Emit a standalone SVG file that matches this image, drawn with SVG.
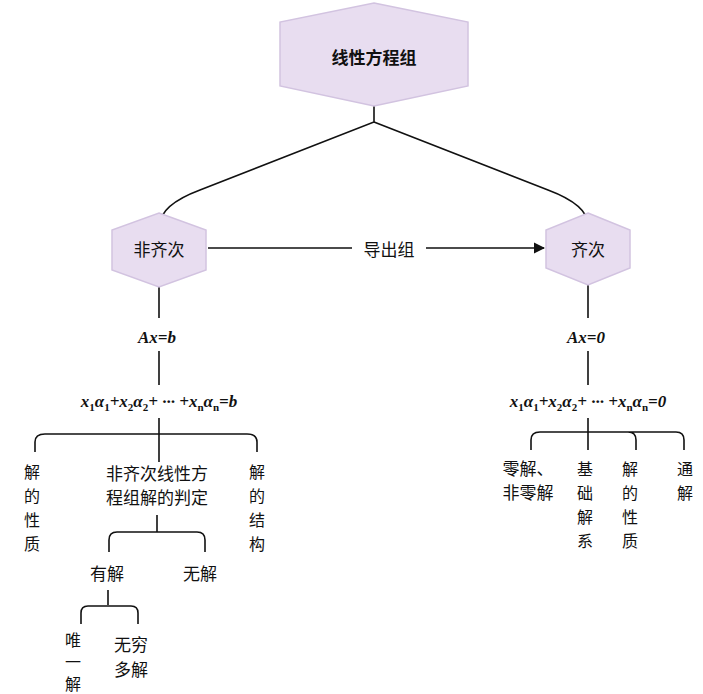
<svg xmlns="http://www.w3.org/2000/svg" width="703" height="694" viewBox="0 0 703 694">
<style>
.hex{fill:#e8ddf0;stroke:#d2c3e0;stroke-width:1.5}
.c{fill:none;stroke:#111;stroke-width:1.6}
.t{font-family:"Noto Sans CJK SC","Noto Sans",sans-serif;font-size:17px;fill:#111;text-anchor:middle}
.v{font-size:16px}
.m{font-family:"Liberation Serif",serif;font-style:italic;font-weight:bold;font-size:17px;fill:#111;text-anchor:middle}
.s{font-size:11px;font-style:normal}
</style>
<defs><marker id="ah" viewBox="0 0 10 10" refX="9" refY="5" markerWidth="7" markerHeight="7" orient="auto"><path d="M0,0L10,5L0,10z" fill="#111"/></marker></defs>
<rect width="703" height="694" fill="#fff"/>
<g id="connectors">
<path class="c" d="M374,105V122L200,190Q160,205 160,225"/>
<path class="c" d="M374,122L548,190Q588,205 588,225"/>
<path class="c" d="M208,248H352M426,248H544" marker-end="url(#ah)"/>
<path class="c" d="M159,285V318M159,351V385M159,418V462M35,452V442Q35,434 45,434H247Q257,434 257,442V452"/>
<path class="c" d="M157,515V532M109,552V540Q109,532 117,532H197Q205,532 205,540V552"/>
<path class="c" d="M108,590V605M81,624V613Q81,606 88,606H131Q138,606 138,613V624"/>
<path class="c" d="M588,285V318M588,351V385M588,418V450M531,450V440Q531,432 540,432H676Q684,432 684,440V450M628,432Q636,432 636,440V450"/>
</g>
<g id="root"><polygon class="hex" points="374,3 468,22 468,86 374,106 280,86 280,22"/><text class="t" x="374" y="64" font-weight="bold" font-size="20">线性方程组</text></g>
<g id="nonhom"><polygon class="hex" points="159,213 206,230 206,270 159,287 112,270 112,230"/><text class="t" x="159" y="256">非齐次</text></g>
<g id="hom"><polygon class="hex" points="588,213 630,230 630,268 588,285 546,268 546,230"/><text class="t" x="588" y="256">齐次</text></g>
<g id="label"><text class="t" x="389" y="256">导出组</text></g>
<g id="axb"><text class="m" x="157" y="343">Ax=b</text></g>
<g id="formula-b"><text class="m" x="159" y="407" font-size="16">x<tspan class="s" dy="4">1</tspan><tspan dy="-4">α</tspan><tspan class="s" dy="4">1</tspan><tspan dy="-4">+x</tspan><tspan class="s" dy="4">2</tspan><tspan dy="-4">α</tspan><tspan class="s" dy="4">2</tspan><tspan dy="-4">+ ··· +x</tspan><tspan class="s" dy="4">n</tspan><tspan dy="-4">α</tspan><tspan class="s" dy="4">n</tspan><tspan dy="-4">=b</tspan></text></g>
<g id="l1"><text class="t v"><tspan x="32" y="478">解</tspan><tspan x="32" y="502">的</tspan><tspan x="32" y="526">性</tspan><tspan x="32" y="550">质</tspan></text></g>
<g id="l2"><text class="t"><tspan x="157" y="480">非齐次线性方</tspan><tspan x="157" y="504">程组解的判定</tspan></text></g>
<g id="l3"><text class="t v"><tspan x="257" y="478">解</tspan><tspan x="257" y="502">的</tspan><tspan x="257" y="526">结</tspan><tspan x="257" y="550">构</tspan></text></g>
<g id="has"><text class="t" x="107" y="580">有解</text></g>
<g id="none"><text class="t" x="200" y="580">无解</text></g>
<g id="unique"><text class="t v"><tspan x="73" y="646">唯</tspan><tspan x="73" y="668">一</tspan><tspan x="73" y="690">解</tspan></text></g>
<g id="inf"><text class="t"><tspan x="131" y="651">无穷</tspan><tspan x="131" y="676">多解</tspan></text></g>
<g id="ax0"><text class="m" x="586" y="343">Ax=0</text></g>
<g id="formula-0"><text class="m" x="588" y="407" font-size="16">x<tspan class="s" dy="4">1</tspan><tspan dy="-4">α</tspan><tspan class="s" dy="4">1</tspan><tspan dy="-4">+x</tspan><tspan class="s" dy="4">2</tspan><tspan dy="-4">α</tspan><tspan class="s" dy="4">2</tspan><tspan dy="-4">+ ··· +x</tspan><tspan class="s" dy="4">n</tspan><tspan dy="-4">α</tspan><tspan class="s" dy="4">n</tspan><tspan dy="-4">=0</tspan></text></g>
<g id="r1"><text class="t"><tspan x="528" y="475">零解、</tspan><tspan x="528" y="499">非零解</tspan></text></g>
<g id="r2"><text class="t v"><tspan x="585" y="475">基</tspan><tspan x="585" y="499">础</tspan><tspan x="585" y="523">解</tspan><tspan x="585" y="547">系</tspan></text></g>
<g id="r3"><text class="t v"><tspan x="630" y="475">解</tspan><tspan x="630" y="499">的</tspan><tspan x="630" y="523">性</tspan><tspan x="630" y="547">质</tspan></text></g>
<g id="r4"><text class="t v"><tspan x="685" y="475">通</tspan><tspan x="685" y="499">解</tspan></text></g>
</svg>
